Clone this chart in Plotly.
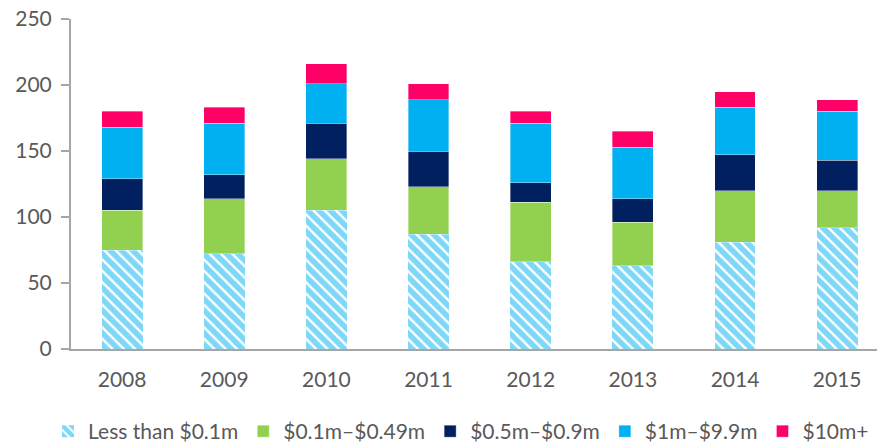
import plotly.graph_objects as go

years = ["2008", "2009", "2010", "2011", "2012", "2013", "2014", "2015"]
less_01 = [75, 72, 105, 87, 66, 63, 81, 92]
m01_049 = [30, 42, 39, 36, 45, 33, 39, 28]
m05_09 = [24, 18, 27, 27, 15, 18, 27, 23]
m1_99 = [39, 39, 30, 39, 45, 39, 36, 37]
m10_plus = [12, 12, 15, 12, 9, 12, 12, 9]

names = ["Less than $0.1m", "$0.1m–$0.49m", "$0.5m–$0.9m", "$1m–$9.9m", "$10m+"]
colors = ["#00B0F0", "#92D050", "#002060", "#00B0F0", "#FF0066"]
series = [less_01, m01_049, m05_09, m1_99, m10_plus]

fig = go.Figure()
for i, (nm, col, vals) in enumerate(zip(names, colors, series)):
    if i == 0:
        marker = dict(color="white",
                      pattern=dict(shape="\\", fgcolor=col, bgcolor="white",
                                   size=8, solidity=0.7, fillmode="overlay"),
                      line=dict(width=0))
    else:
        marker = dict(color=col, line=dict(width=0.6, color="rgba(255,255,255,0.6)"))
    fig.add_trace(go.Bar(x=years, y=vals, name=nm, marker=marker, width=0.4))

fig.update_layout(
    barmode="stack",
    width=877, height=445,
    margin=dict(l=71, r=0, t=19, b=96, autoexpand=False),
    plot_bgcolor="white", paper_bgcolor="white",
    font=dict(family="Lato, Carlito, sans-serif", size=21, color="#595959"),
    xaxis=dict(range=[-0.5, 7.39], showline=True, linecolor="#A6A6A6", linewidth=2,
               ticks="", showgrid=False, tickfont=dict(size=21, color="#595959"),
               ticklabelstandoff=11),
    yaxis=dict(range=[0, 250], dtick=50, showline=True, linecolor="#A6A6A6", linewidth=2,
               ticks="outside", ticklen=8, tickcolor="#A6A6A6", tickwidth=2,
               showgrid=False, zeroline=False, tickfont=dict(size=21, color="#595959"),
               ticklabelstandoff=5),
    legend=dict(orientation="h", x=-0.0285, xanchor="left", y=-0.188, yanchor="top",
                font=dict(size=21, color="#595959"), traceorder="normal",
                itemwidth=30),
    showlegend=True,
)

# remove the browser's default 8px body margin so the figure fills the window
fig.write_html("out.html", config={"displayModeBar": False},
               post_script="document.body.style.margin='0';")
